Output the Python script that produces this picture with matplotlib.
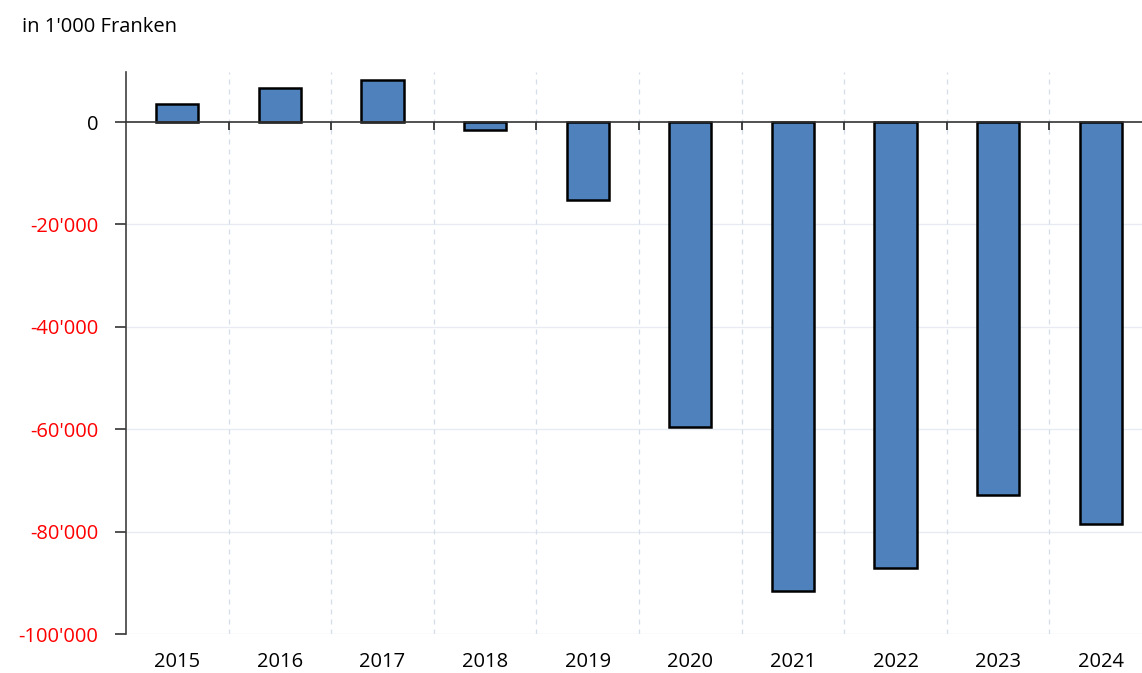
import matplotlib
matplotlib.use("Agg")
import matplotlib.pyplot as plt
from matplotlib.ticker import FixedLocator, NullFormatter

years = ["2015", "2016", "2017", "2018", "2019", "2020", "2021", "2022", "2023", "2024"]
values = [3500, 6600, 8200, -1500, -15200, -59600, -91600, -87100, -72900, -78500]
yticks = [0, -20000, -40000, -60000, -80000, -100000]
ytick_labels = ["0", "-20'000", "-40'000", "-60'000", "-80'000", "-100'000"]
title = "in 1'000 Franken"

plt.rcParams['font.family'] = ['Open Sans', 'DejaVu Sans']

fig = plt.figure(figsize=(11.42, 6.73), dpi=100)
ax = fig.add_axes([126/1142, 1-634/673, (1152-126)/1142, (634-72)/673])

x = list(range(len(years)))
ax.bar(x, values, width=0.41, color="#4F81BD", edgecolor="black", linewidth=1.8, zorder=3)

ax.set_xlim(-0.5, len(years) - 0.5)
ax.set_ylim(-100000, 9766)

# horizontal grid
for yv in yticks[1:]:
    ax.axhline(yv, color="#e8ecf2", linewidth=1, zorder=0)
# vertical dashed separators
for b in range(1, len(years)):
    ax.axvline(b - 0.5, color="#d5dcea", linewidth=0.9, linestyle=(0, (4, 4)), zorder=0)

# spines
for s in ["top", "right"]:
    ax.spines[s].set_visible(False)
ax.spines["left"].set_color("#404040")
ax.spines["left"].set_linewidth(1.2)
ax.spines["bottom"].set_position(("data", 0))
ax.spines["bottom"].set_color("#333333")
ax.spines["bottom"].set_linewidth(1.2)
ax.spines["bottom"].set_zorder(4)

# x ticks at boundaries on zero line, no labels
ax.xaxis.set_major_locator(FixedLocator([b - 0.5 for b in range(1, len(years))]))
ax.xaxis.set_major_formatter(NullFormatter())
ax.tick_params(axis="x", direction="out", length=6, width=1.2, color="#222222")

# y ticks
ax.set_yticks(yticks)
ax.set_yticklabels(ytick_labels, fontsize=14.5)
ax.tick_params(axis="y", direction="out", length=8, width=1.2, color="#333333", pad=12)
for lbl, v in zip(ax.get_yticklabels(), yticks):
    lbl.set_color("black" if v == 0 else "red")

# category labels at bottom
sec = ax.secondary_xaxis("bottom")
sec.set_xticks(x)
sec.set_xticklabels(years, fontsize=14.5)
sec.tick_params(axis="x", length=0, pad=13)
sec.spines["bottom"].set_visible(False)

fig.text(22/1142, 1-27/673, title, fontsize=14.5, ha="left", va="center", color="black")

fig.savefig("out.png", dpi=100)
